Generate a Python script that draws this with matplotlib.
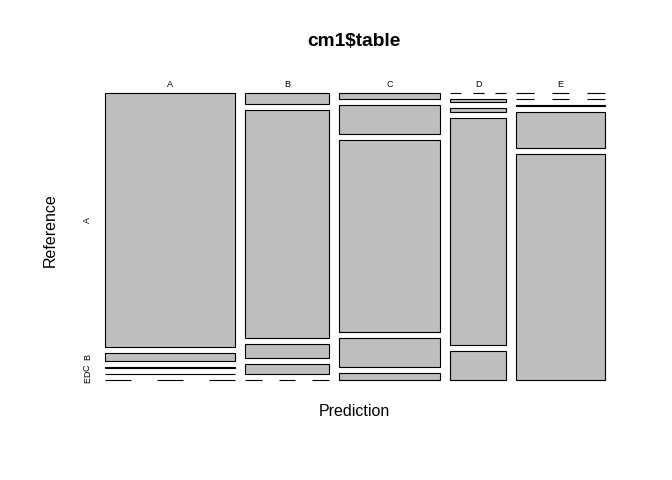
import matplotlib.pyplot as plt
from matplotlib.patches import Rectangle

plt.rcParams['font.family'] = ['Liberation Sans', 'DejaVu Sans']

levels = ["A", "B", "C", "D", "E"]
# counts per predicted class (columns), listed by reference class A..E
pred_A = [1607, 52, 3, 2, 0]
pred_B = [46, 930, 56, 43, 0]
pred_C = [31, 142, 942, 142, 36]
pred_D = [0, 8, 11, 619, 79]
pred_E = [0, 0, 3, 156, 977]
table = [pred_A, pred_B, pred_C, pred_D, pred_E]

W, H = 672, 480
fig = plt.figure(figsize=(W / 100, H / 100), dpi=100)
x0, x1, y0, y1 = 105, 605, 93, 380.3
ax = fig.add_axes([x0 / W, 1 - y1 / H, (x1 - x0) / W, (y1 - y0) / H])
ax.set_xlim(0, 1)
ax.set_ylim(1, 0)
ax.axis("off")

gx = 10 / (x1 - x0)
gy = 6.05 / (y1 - y0)
totals = [sum(c) for c in table]
N = sum(totals)
avail_x = 1 - gx * (len(levels) - 1)
avail_y = 1 - gy * (len(levels) - 1)

x = 0
for j, col in enumerate(table):
    w = avail_x * totals[j] / N
    y = 0
    for i, n in enumerate(col):
        h = avail_y * n / totals[j]
        if n == 0:
            # empty cells are drawn as a dashed line
            for k in (0, 2, 4):
                ax.plot([x + w * k / 5, x + w * (k + 1) / 5], [y, y],
                        color="black", lw=0.8, solid_capstyle="butt",
                        clip_on=False)
        else:
            ax.add_patch(Rectangle((x, y), w, h, facecolor="#bebebe",
                                   edgecolor="black", lw=0.8, clip_on=False))
        if j == 0:
            ax.text(-17.5 / (x1 - x0), y + h / 2, levels[i], rotation=90,
                    ha="center", va="center", fontsize=6.5, clip_on=False)
        y += h + gy
    ax.text(x + w / 2, -9 / (y1 - y0), levels[j], ha="center", va="center",
            fontsize=6.5, clip_on=False)
    x += w + gx

fig.text(354 / W, 1 - 42 / H, "cm1$table", ha="center", va="center",
         fontsize=13.8, fontweight="bold")
fig.text(354 / W, 1 - 411 / H, "Prediction", ha="center", va="center",
         fontsize=11.5)
fig.text(50 / W, 1 - 230 / H, "Reference", ha="center", va="center",
         fontsize=11.5, rotation=90)

fig.savefig("out.png", dpi=100, facecolor="white")
